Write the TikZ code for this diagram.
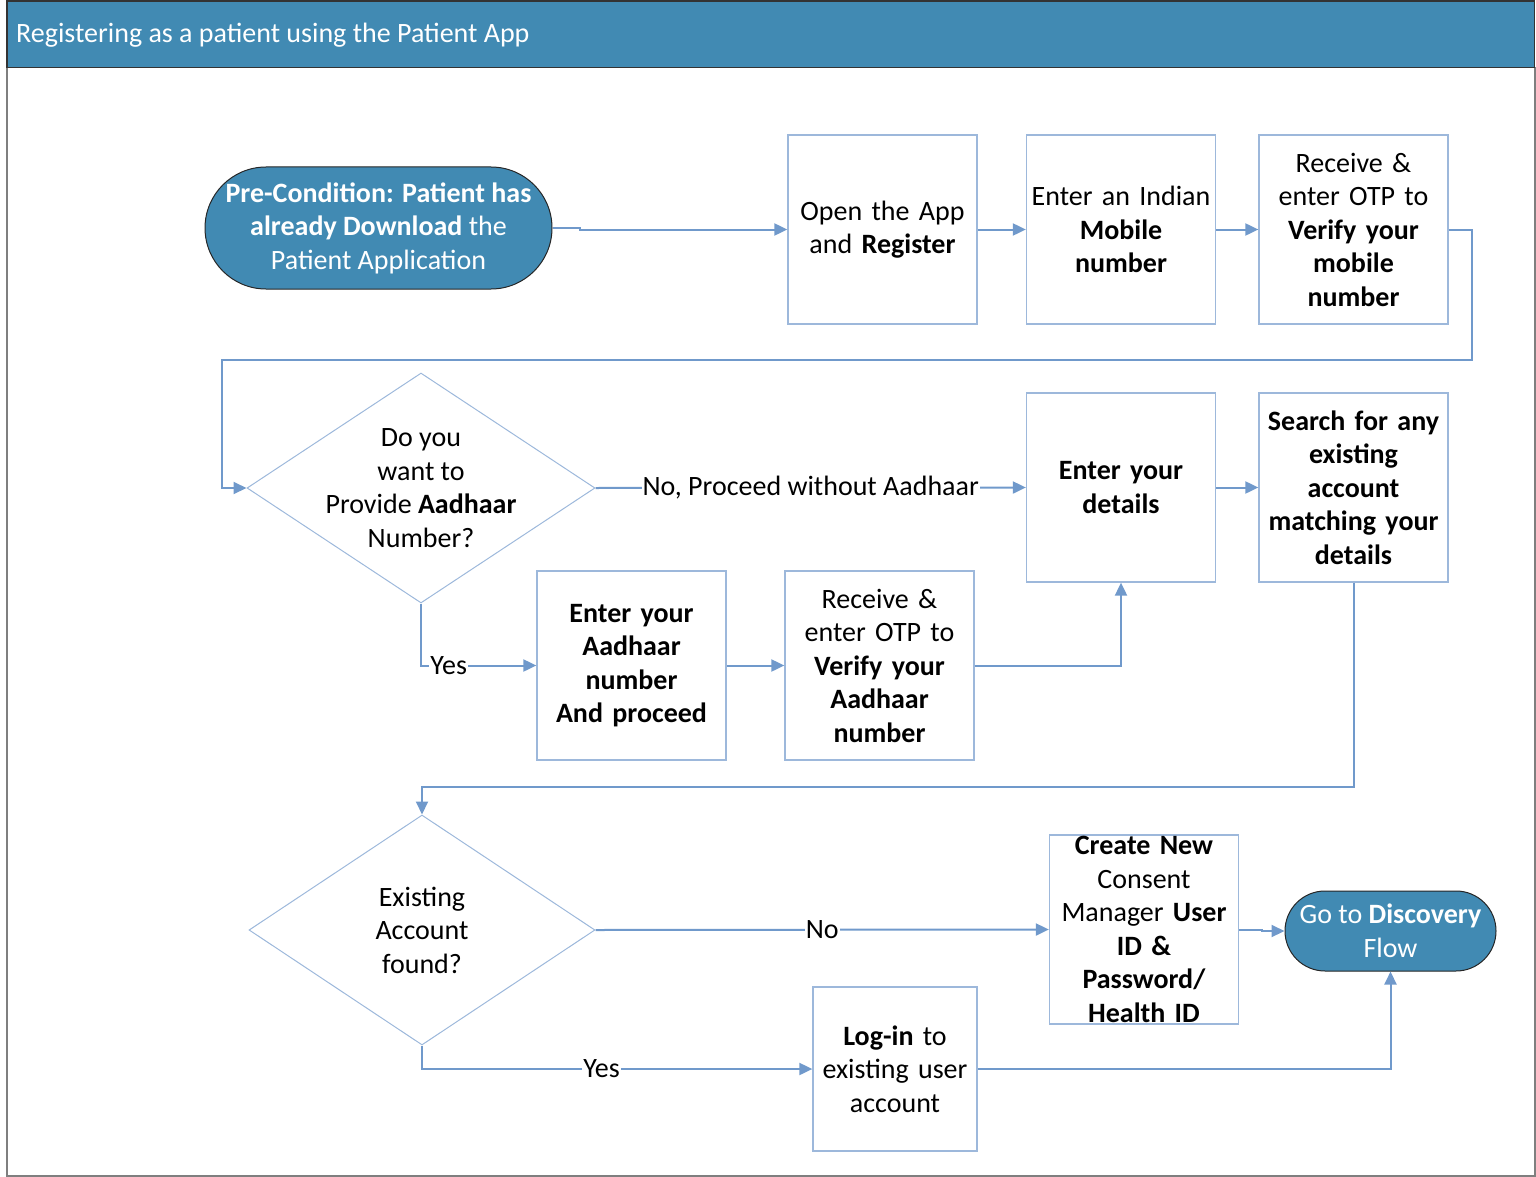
\documentclass[tikz,border=0pt]{standalone}
\usepackage{fontspec}
\setmainfont{Carlito}
\usetikzlibrary{shapes.geometric,shapes.misc,arrows.meta}
\definecolor{hdr}{HTML}{418AB3}
\definecolor{boxline}{HTML}{9DB8DB}
\definecolor{conn}{HTML}{7099CB}
\definecolor{frameg}{HTML}{7F7F7F}
\tikzset{
  txt/.style={font=\fontsize{28}{33.5}\selectfont, align=center},
  stepbox/.style={txt, draw=boxline, line width=1.3pt, minimum width=189, minimum height=189, inner sep=0pt, text width=189},
  startstop/.style={txt, rounded rectangle, draw=black!85, line width=1pt, fill=hdr, text=white, inner sep=0pt},
  decision/.style={diamond, draw=boxline, line width=1pt, inner sep=0pt},
  flow/.style={draw=conn, line width=2pt, -{Triangle[length=13pt,width=12pt]}},
  flowlabel/.style={txt, fill=white, inner sep=1pt}
}
\begin{document}
\begin{tikzpicture}[x=1pt,y=-1pt]
\useasboundingbox (0,0) rectangle (1536,1177);
% frame
\draw[frameg, line width=2pt] (7,67) -- (7,1175.5) -- (1534.5,1175.5) -- (1534.5,67);
\draw[fill=hdr, draw=black!80, line width=1.5pt] (7,1) rectangle (1534.5,67.5);
\node[txt, text=white, anchor=base west, inner sep=0pt] (title) at (16,43) {Registering as a patient using the Patient App};

% nodes
\node[startstop, minimum width=347, minimum height=122] (pre) at (378.5,228)
  {\textbf{Pre-Condition: Patient has}\\\textbf{already Download} the\\Patient Application};
\node[stepbox] (open) at (882.5,229.5) {Open the App\\and \textbf{Register}};
\node[stepbox] (mobile) at (1121,229.5) {Enter an Indian\\\textbf{Mobile}\\\textbf{number}};
\node[stepbox] (otp1) at (1353.5,229.5) {Receive \&\\enter OTP to\\\textbf{Verify your}\\\textbf{mobile}\\\textbf{number}};

\node[decision, minimum width=348, minimum height=230] (dec1) at (421,488) {};
\node[txt] (dec1t) at (dec1.center) {Do you\\want to\\Provide \textbf{Aadhaar}\\Number?};
\node[stepbox] (details) at (1121,487.5) {\textbf{Enter your}\\\textbf{details}};
\node[stepbox] (search) at (1353.5,487.5) {\textbf{Search for any}\\\textbf{existing}\\\textbf{account}\\\textbf{matching your}\\\textbf{details}};
\node[stepbox] (aad) at (631.5,665.5) {\textbf{Enter your}\\\textbf{Aadhaar}\\\textbf{number}\\\textbf{And proceed}};
\node[stepbox] (otp2) at (879.5,665.5) {Receive \&\\enter OTP to\\\textbf{Verify your}\\\textbf{Aadhaar}\\\textbf{number}};

\node[decision, minimum width=346, minimum height=230] (dec2) at (422,930) {};
\node[txt] (dec2t) at (dec2.center) {Existing\\Account\\found?};
\node[stepbox] (create) at (1144,929.5) {\textbf{Create New}\\Consent\\Manager \textbf{User}\\\textbf{ID \&}\\\textbf{Password/}\\\textbf{Health ID}};
\node[startstop, minimum width=211, minimum height=80] (disc) at (1390.5,931) {Go to \textbf{Discovery}\\Flow};
\node[stepbox, minimum width=164, minimum height=164, text width=164] (login) at (895,1069) {\textbf{Log-in} to\\existing user\\account};

% connectors
\draw[flow] (pre.east) -- (580,228) -- (580,229.5) -- (open.west);
\draw[flow] (open) -- (mobile);
\draw[flow] (mobile) -- (otp1);
\draw[flow] (otp1.east) -- (1472,229.5) -- (1472,360) -- (222,360) -- (222,488) -- (dec1.west);
\draw[flow] (dec1.east) -- node[flowlabel] (lno1) {No, Proceed without Aadhaar} (details.west);
\draw[flow] (dec1.south) |- node[flowlabel, pos=0.62] (lyes1) {Yes} (aad.west);
\draw[flow] (aad) -- (otp2);
\draw[flow] (otp2.east) -| (details.south);
\draw[flow] (details) -- (search);
\draw[flow] (search.south) -- (1353.5,787) -- (422,787) -- (dec2.north);
\draw[flow] (dec2.east) -- node[flowlabel, pos=0.5] (lno2) {No} (create.west);
\draw[flow] (create.east) -- (1262,929.5) -- (1262,931) -- (disc.west);
\draw[flow] (dec2.south) |- node[flowlabel, pos=0.73] (lyes2) {Yes} (login.west);
\draw[flow] (login.east) -| (disc.south);
\end{tikzpicture}
\end{document}
